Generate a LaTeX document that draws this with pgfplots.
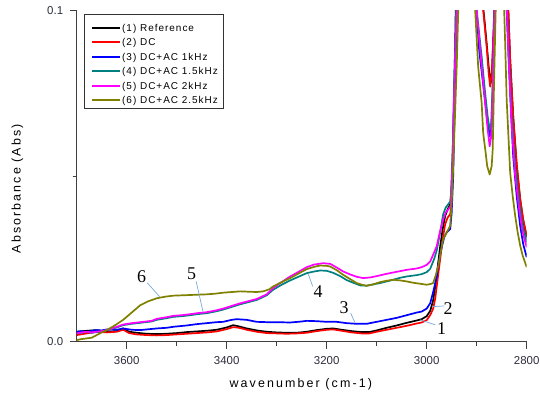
\documentclass[border=0pt]{standalone}
\usepackage{fontspec}
\setmainfont{Liberation Sans}
\newfontfamily\serifnum{Liberation Serif}
\newfontfamily\labfont[LetterSpace=17]{Liberation Sans}
\newfontfamily\legfont[LetterSpace=10]{Liberation Sans}
\usepackage{pgfplots}
\pgfplotsset{compat=1.18}
\definecolor{cblack}{RGB}{0,0,0}
\definecolor{cred}{RGB}{255,0,0}
\definecolor{cblue}{RGB}{0,0,255}
\definecolor{cteal}{RGB}{0,128,128}
\definecolor{colive}{RGB}{128,128,0}
\definecolor{cmag}{RGB}{255,0,255}
\definecolor{leader}{RGB}{120,170,220}
\definecolor{ticktxt}{RGB}{45,45,60}
\newcommand{\legline}[1]{\hspace*{3bp}{\color{#1}\rule[2.4bp]{28bp}{2.1bp}}\hspace{2bp}}
\newcommand{\lstrut}{\rule[-2bp]{0pt}{9.5bp}}
\newcommand{\lstruttop}{\rule[-2bp]{0pt}{17.1bp}}
\begin{document}
\begin{tikzpicture}
\useasboundingbox (-76.7bp,-54.3bp) rectangle (463.3bp,341.7bp);
\begin{axis}[
  at={(0,0)}, anchor=south west,
  scale only axis, width=450bp, height=331.2bp,
  x dir=reverse, xmin=2800, xmax=3700, ymin=0, ymax=0.1,
  axis x line*=bottom, axis y line*=left,
  axis line style={-, draw=black!75, line width=0.8bp},
  tick style={draw=black!75, line width=0.8bp},
  tick align=outside,
  major tick length=7bp, minor tick length=4bp,
  xtick={3600,3400,3200,3000,2800},
  xticklabels={3600,3400,3200,3000,2800},
  minor xtick={3500,3300,3100,2900},
  ytick={0,0.1}, yticklabels={0.0,0.1},
  minor ytick={0.05},
  scaled y ticks=false,
  ticklabel style={font=\fontsize{11.5}{12}\selectfont, text=ticktxt},
  xticklabel style={yshift=-4bp},
  yticklabel style={xshift=-3bp},
  xlabel={wavenumber (cm-1)},
  ylabel={Absorbance (Abs)},
  xlabel style={at={(axis description cs:0.498,-0.128)}, anchor=center, font=\labfont\fontsize{12.5}{13}\selectfont},
  ylabel style={at={(axis description cs:-0.132,0.462)}, anchor=center, font=\labfont\fontsize{12.5}{13}\selectfont},
  legend style={at={(axis description cs:0.0162,0.9894)}, anchor=north west,
    draw=black!80, fill=white,
    font=\legfont\fontsize{10}{10}\selectfont,
    inner xsep=4bp, inner ysep=1bp, row sep=3bp,
    nodes={inner sep=1bp, text depth=2bp},
    /tikz/every even column/.append style={column sep=0pt},
    /tikz/every odd column/.append style={column sep=0pt}},
  legend cell align=left,
  legend image code/.code={},
]
\addlegendimage{empty legend}
\addlegendentry{\lstruttop\legline{cblack}(1) Reference}
\addlegendimage{empty legend}
\addlegendentry{\lstrut\legline{cred}(2) DC}
\addlegendimage{empty legend}
\addlegendentry{\lstrut\legline{cblue}(3) DC+AC 1kHz}
\addlegendimage{empty legend}
\addlegendentry{\lstrut\legline{cteal}(4) DC+AC 1.5kHz}
\addlegendimage{empty legend}
\addlegendentry{\lstrut\legline{cmag}(5) DC+AC 2kHz}
\addlegendimage{empty legend}
\addlegendentry{\lstrut\legline{colive}(6) DC+AC 2.5kHz}
% (1) Reference
\addplot[draw=cblack, line width=1.7bp, line join=round, forget plot] table {
3700 0.0030
3680 0.0033
3660 0.0035
3640 0.0030
3620 0.0032
3607 0.0040
3595 0.0030
3580 0.0027
3560 0.0024
3540 0.0023
3520 0.0024
3500 0.0026
3480 0.0029
3460 0.0031
3440 0.0033
3420 0.0036
3400 0.0043
3387 0.0050
3375 0.0046
3360 0.0040
3340 0.0034
3320 0.0030
3300 0.0028
3280 0.0027
3260 0.0027
3240 0.0030
3220 0.0035
3200 0.0039
3187 0.0040
3170 0.0036
3150 0.0032
3130 0.0029
3115 0.0029
3100 0.0034
3080 0.0042
3060 0.0049
3040 0.0057
3020 0.0064
3010 0.0068
3000 0.0077
2993 0.0093
2987 0.0125
2983 0.0165
2978 0.0225
2973 0.0288
2968 0.0340
2963 0.0380
2958 0.0400
2953 0.0415
2950 0.0470
2947 0.0630
2943 0.0900
2940 0.1200
2935 0.1500
2925 0.1600
2915 0.1500
2900 0.1200
2890 0.1050
2885 0.0980
2880 0.0900
2876 0.0830
2872 0.0780
2869 0.0820
2866 0.0950
2863 0.1100
2858 0.1500
2850 0.1600
2843 0.1300
2838 0.1050
2833 0.0850
2827 0.0680
2820 0.0530
2813 0.0430
2807 0.0365
2800 0.0315
};
% (2) DC
\addplot[draw=cred, line width=1.7bp, line join=round, forget plot] table {
3700 0.0020
3680 0.0025
3660 0.0030
3640 0.0028
3620 0.0030
3607 0.0036
3595 0.0026
3580 0.0022
3560 0.0020
3540 0.0019
3520 0.0020
3500 0.0022
3480 0.0024
3460 0.0026
3440 0.0028
3420 0.0031
3400 0.0038
3387 0.0044
3375 0.0042
3360 0.0036
3340 0.0030
3320 0.0026
3300 0.0025
3280 0.0024
3260 0.0025
3240 0.0027
3220 0.0032
3200 0.0036
3187 0.0037
3170 0.0033
3150 0.0028
3130 0.0025
3115 0.0025
3100 0.0030
3080 0.0036
3060 0.0042
3040 0.0048
3020 0.0055
3010 0.0058
3000 0.0065
2993 0.0080
2987 0.0100
2983 0.0130
2978 0.0190
2973 0.0250
2968 0.0310
2963 0.0355
2958 0.0375
2953 0.0385
2950 0.0420
2947 0.0550
2943 0.0800
2940 0.1100
2935 0.1500
2925 0.1600
2915 0.1500
2900 0.1200
2890 0.1050
2885 0.0970
2880 0.0890
2876 0.0810
2873 0.0770
2870 0.0810
2866 0.0940
2863 0.1100
2858 0.1500
2850 0.1600
2843 0.1300
2838 0.1050
2833 0.0850
2827 0.0680
2820 0.0540
2813 0.0430
2807 0.0370
2800 0.0320
};
% (3) DC+AC 1kHz
\addplot[draw=cblue, line width=1.7bp, line join=round, forget plot] table {
3700 0.0030
3690 0.0032
3680 0.0029
3670 0.0033
3660 0.0035
3650 0.0034
3640 0.0037
3620 0.0036
3607 0.0040
3590 0.0036
3573 0.0035
3560 0.0037
3540 0.0040
3520 0.0042
3507 0.0045
3480 0.0049
3460 0.0053
3440 0.0056
3420 0.0059
3407 0.0060
3390 0.0066
3380 0.0068
3360 0.0066
3340 0.0060
3320 0.0059
3300 0.0059
3273 0.0058
3250 0.0061
3240 0.0063
3220 0.0062
3200 0.0060
3180 0.0060
3160 0.0056
3140 0.0054
3120 0.0054
3100 0.0060
3080 0.0066
3060 0.0072
3040 0.0080
3020 0.0088
3010 0.0091
3000 0.0100
2993 0.0116
2987 0.0150
2980 0.0197
2975 0.0250
2970 0.0285
2965 0.0315
2960 0.0330
2953 0.0340
2950 0.0390
2947 0.0500
2943 0.0800
2938 0.1100
2933 0.1500
2925 0.1600
2915 0.1500
2905 0.1100
2895 0.0880
2885 0.0750
2879 0.0670
2874 0.0620
2870 0.0650
2867 0.0800
2864 0.1000
2860 0.1400
2852 0.1600
2845 0.1300
2840 0.1000
2833 0.0750
2827 0.0560
2820 0.0440
2813 0.0350
2807 0.0295
2800 0.0255
};
% (4) DC+AC 1.5kHz
\addplot[draw=cteal, line width=1.7bp, line join=round, forget plot] table {
3700 0.0025
3690 0.0027
3680 0.0029
3670 0.0027
3660 0.0029
3650 0.0031
3640 0.0034
3620 0.0043
3607 0.0050
3590 0.0054
3573 0.0057
3550 0.0061
3540 0.0066
3520 0.0071
3507 0.0075
3490 0.0077
3473 0.0080
3460 0.0083
3440 0.0086
3420 0.0092
3407 0.0097
3390 0.0105
3373 0.0113
3360 0.0118
3340 0.0126
3320 0.0140
3307 0.0157
3290 0.0172
3273 0.0185
3255 0.0197
3240 0.0207
3225 0.0212
3213 0.0215
3200 0.0214
3187 0.0208
3173 0.0198
3160 0.0186
3147 0.0178
3133 0.0170
3120 0.0169
3107 0.0173
3093 0.0177
3080 0.0182
3067 0.0187
3053 0.0193
3040 0.0197
3020 0.0201
3010 0.0204
3000 0.0210
2993 0.0220
2985 0.0250
2980 0.0275
2973 0.0330
2967 0.0385
2962 0.0405
2957 0.0415
2952 0.0425
2948 0.0560
2945 0.0780
2940 0.1050
2935 0.1400
2925 0.1600
2915 0.1500
2907 0.1200
2900 0.1000
2890 0.0860
2883 0.0750
2878 0.0680
2874 0.0640
2871 0.0660
2868 0.0780
2865 0.0970
2862 0.1200
2856 0.1600
2848 0.1400
2842 0.1100
2836 0.0870
2830 0.0680
2823 0.0530
2815 0.0420
2808 0.0350
2800 0.0300
};
% (5) DC+AC 2kHz
\addplot[draw=cmag, line width=1.7bp, line join=round, forget plot] table {
3700 0.0025
3690 0.0028
3680 0.0030
3670 0.0028
3660 0.0030
3650 0.0032
3640 0.0035
3620 0.0045
3607 0.0052
3590 0.0056
3573 0.0059
3550 0.0063
3540 0.0069
3520 0.0074
3507 0.0078
3490 0.0080
3473 0.0083
3460 0.0086
3440 0.0089
3420 0.0095
3407 0.0100
3390 0.0108
3373 0.0116
3360 0.0121
3340 0.0129
3320 0.0143
3307 0.0162
3290 0.0180
3273 0.0197
3255 0.0212
3240 0.0225
3225 0.0233
3207 0.0237
3193 0.0235
3180 0.0224
3167 0.0212
3153 0.0203
3140 0.0196
3127 0.0192
3113 0.0194
3100 0.0198
3080 0.0205
3067 0.0209
3050 0.0214
3040 0.0217
3020 0.0221
3010 0.0225
3000 0.0232
2993 0.0242
2985 0.0270
2980 0.0288
2973 0.0335
2967 0.0369
2962 0.0390
2957 0.0399
2952 0.0410
2948 0.0550
2945 0.0750
2940 0.1000
2935 0.1400
2925 0.1600
2915 0.1500
2907 0.1200
2900 0.1000
2890 0.0830
2883 0.0720
2878 0.0640
2874 0.0590
2871 0.0620
2868 0.0750
2865 0.0950
2862 0.1200
2856 0.1600
2848 0.1400
2842 0.1100
2836 0.0850
2830 0.0650
2823 0.0500
2815 0.0400
2808 0.0330
2800 0.0285
};
% (6) DC+AC 2.5kHz
\addplot[draw=colive, line width=1.7bp, line join=round, forget plot] table {
3700 0.0005
3690 0.0008
3680 0.0010
3670 0.0012
3660 0.0020
3650 0.0028
3640 0.0035
3625 0.0048
3607 0.0066
3590 0.0088
3573 0.0110
3557 0.0122
3540 0.0131
3523 0.0136
3507 0.0139
3490 0.0140
3473 0.0141
3457 0.0142
3440 0.0143
3423 0.0145
3407 0.0148
3390 0.0150
3373 0.0152
3357 0.0151
3340 0.0150
3327 0.0152
3315 0.0158
3307 0.0167
3290 0.0180
3273 0.0192
3255 0.0207
3240 0.0219
3225 0.0226
3213 0.0230
3200 0.0229
3193 0.0227
3180 0.0216
3167 0.0202
3153 0.0189
3140 0.0177
3127 0.0171
3120 0.0169
3107 0.0173
3093 0.0180
3080 0.0184
3067 0.0187
3053 0.0185
3040 0.0182
3027 0.0178
3013 0.0175
3000 0.0172
2993 0.0174
2987 0.0177
2982 0.0200
2977 0.0227
2972 0.0270
2967 0.0310
2960 0.0330
2953 0.0350
2950 0.0420
2947 0.0530
2943 0.0700
2940 0.0830
2935 0.1100
2930 0.1400
2920 0.1500
2910 0.1300
2903 0.1000
2897 0.0830
2890 0.0720
2887 0.0630
2882 0.0570
2879 0.0530
2874 0.0505
2870 0.0530
2868 0.0580
2865 0.0800
2862 0.1000
2858 0.1300
2850 0.1400
2847 0.1100
2843 0.0900
2840 0.0730
2833 0.0510
2828 0.0440
2823 0.0380
2818 0.0330
2813 0.0290
2808 0.0260
2800 0.0225
};
% annotations
\draw[draw=leader, line width=0.7bp] (axis cs:3559,0.0178) -- (axis cs:3533,0.0134);
\node[font=\serifnum\fontsize{18}{18}\selectfont] at (axis cs:3570,0.0197) {6};
\draw[draw=leader, line width=0.7bp] (axis cs:3461,0.0182) -- (axis cs:3447,0.0088);
\node[font=\serifnum\fontsize{18}{18}\selectfont] at (axis cs:3470,0.0205) {5};
\draw[draw=leader, line width=0.7bp] (axis cs:3228,0.0167) -- (axis cs:3237,0.0205);
\node[font=\serifnum\fontsize{18}{18}\selectfont] at (axis cs:3217,0.0151) {4};
\draw[draw=leader, line width=0.7bp] (axis cs:3152,0.0086) -- (axis cs:3143,0.0056);
\node[font=\serifnum\fontsize{18}{18}\selectfont] at (axis cs:3165,0.0104) {3};
\draw[draw=leader, line width=0.7bp] (axis cs:2965,0.0108) -- (axis cs:2987,0.0106);
\node[font=\serifnum\fontsize{18}{18}\selectfont] at (axis cs:2957,0.0101) {2};
\draw[draw=leader, line width=0.7bp] (axis cs:2983,0.0051) -- (axis cs:3013,0.0066);
\node[font=\serifnum\fontsize{18}{18}\selectfont] at (axis cs:2970,0.0041) {1};
\end{axis}
\end{tikzpicture}
\end{document}
